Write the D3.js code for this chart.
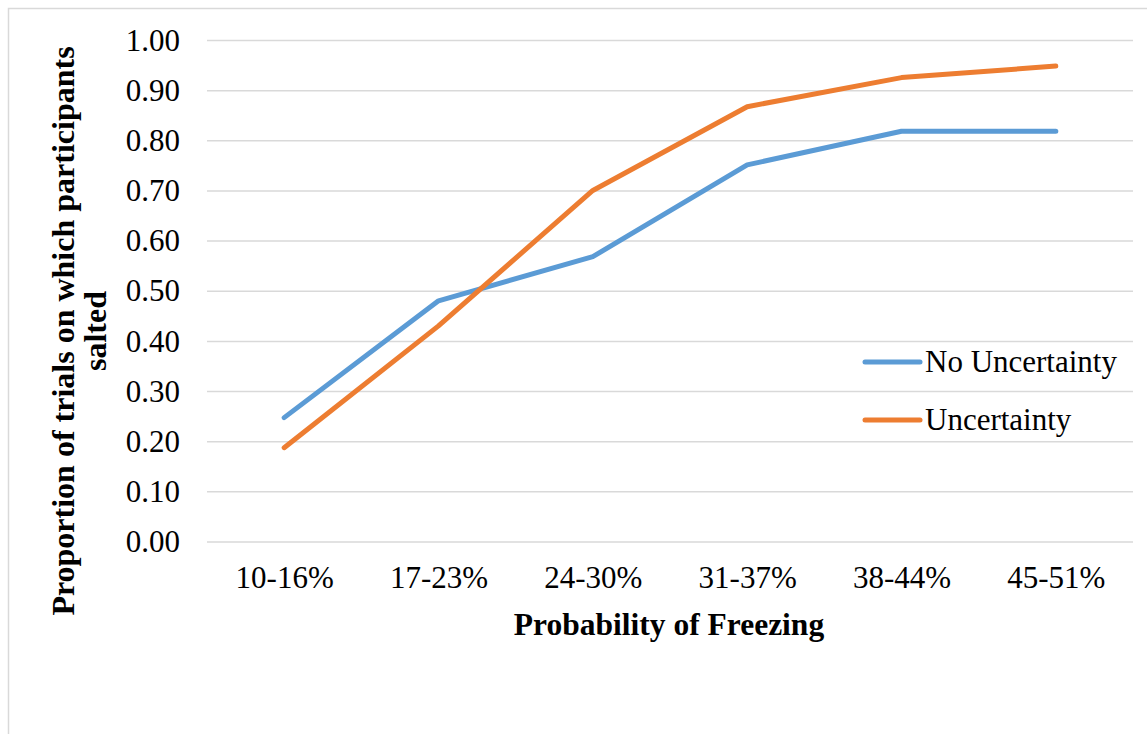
<!DOCTYPE html>
<html>
<head>
<meta charset="utf-8">
<script src="https://cdn.jsdelivr.net/npm/d3@7"></script>
<style>
  body { margin: 0; background: #fff; }
</style>
</head>
<body>
<svg id="chart" width="1147" height="734"></svg>
<script>
// chart data
var categories = ['10-16%', '17-23%', '24-30%', '31-37%', '38-44%', '45-51%'];
var noUncertainty = [0.247, 0.480, 0.568, 0.751, 0.818, 0.818];
var uncertainty = [0.187, 0.430, 0.700, 0.867, 0.925, 0.948];
var yTicks = [0, 0.1, 0.2, 0.3, 0.4, 0.5, 0.6, 0.7, 0.8, 0.9, 1.0];
var seriesNames = ['No Uncertainty', 'Uncertainty'];
var seriesColors = ['#5B9BD5', '#ED7D31'];

var serif = "'Liberation Serif'";
var plot = { left: 207, right: 1133, top: 40, bottom: 541.5 };

var svg = d3.select('svg#chart');

// outer chart frame
svg.append('rect')
    .attr('x', 8.5).attr('y', 8.5)
    .attr('width', 1200).attr('height', 800)
    .attr('fill', 'none')
    .attr('stroke', '#d9d9d9')
    .attr('stroke-width', 1.5);

var x = d3.scalePoint()
    .domain(categories)
    .range([plot.left, plot.right])
    .padding(0.5);

var y = d3.scaleLinear()
    .domain([0, 1])
    .range([plot.bottom, plot.top]);

// gridlines + y labels
var yAxis = d3.axisLeft(y)
    .tickValues(yTicks)
    .tickSize(-(plot.right - plot.left))
    .tickPadding(27)
    .tickFormat(d3.format('.2f'));

var gy = svg.append('g')
    .attr('transform', 'translate(' + plot.left + ',0)')
    .call(yAxis);
gy.select('.domain').remove();
gy.selectAll('.tick line').attr('stroke', '#d9d9d9').attr('stroke-width', 1.5);
gy.selectAll('.tick text')
    .style('font-family', serif)
    .style('font-size', '31px')
    .attr('fill', '#000')
    .attr('dy', '0.33em');

// category labels
var xAxis = d3.axisBottom(x).tickSize(0).tickPadding(24);
var gx = svg.append('g')
    .attr('transform', 'translate(0,' + plot.bottom + ')')
    .call(xAxis);
gx.select('.domain').remove();
gx.selectAll('.tick text')
    .style('font-family', serif)
    .style('font-size', '31px')
    .attr('fill', '#000');

// lines
var line = d3.line()
    .x(function(d, i) { return x(categories[i]); })
    .y(function(d) { return y(d); });

[noUncertainty, uncertainty].forEach(function(values, i) {
    svg.append('path')
        .datum(values)
        .attr('fill', 'none')
        .attr('stroke', seriesColors[i])
        .attr('stroke-width', 5)
        .attr('stroke-linecap', 'round')
        .attr('stroke-linejoin', 'round')
        .attr('d', line);
});

// axis titles
svg.append('text')
    .attr('x', 669).attr('y', 635)
    .attr('text-anchor', 'middle')
    .style('font-family', serif)
    .style('font-size', '31.5px')
    .style('font-weight', 'bold')
    .text('Probability of Freezing');

var yTitle = svg.append('text')
    .attr('transform', 'translate(0,331) rotate(-90)')
    .attr('text-anchor', 'middle')
    .style('font-family', serif)
    .style('font-size', '32px')
    .style('font-weight', 'bold');
yTitle.append('tspan').attr('x', 0).attr('y', 74).text('Proportion of trials on which participants');
yTitle.append('tspan').attr('x', 0).attr('y', 106).text('salted');

// legend
var legend = svg.append('g').attr('transform', 'translate(865,362)');
seriesNames.forEach(function(name, i) {
    var row = legend.append('g').attr('transform', 'translate(0,' + (i * 58) + ')');
    row.append('line')
        .attr('x1', 0).attr('x2', 55)
        .attr('stroke', seriesColors[i])
        .attr('stroke-width', 5)
        .attr('stroke-linecap', 'round');
    row.append('text')
        .attr('x', 60)
        .attr('dy', '0.33em')
        .style('font-family', serif)
        .style('font-size', '31px')
        .text(name);
});
</script>
</body>
</html>
